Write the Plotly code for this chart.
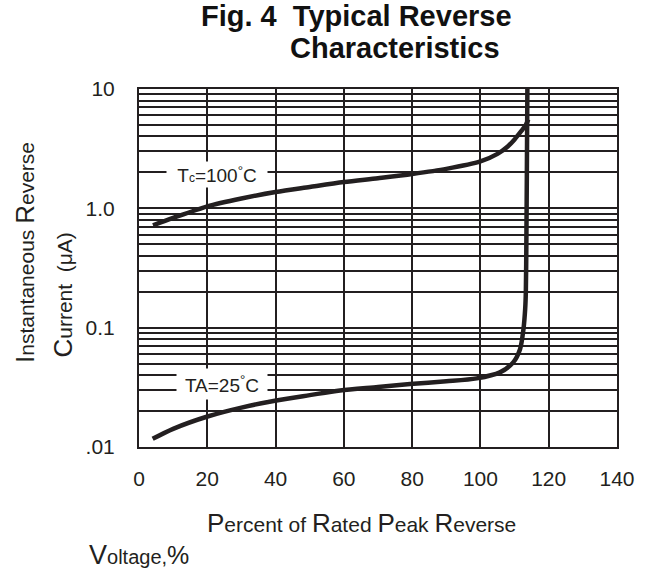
import math
import plotly.graph_objects as go

# ---- data ----
tc100_x = [4.1, 10, 20, 30, 40, 50, 60, 70, 80, 90, 100, 105, 108, 110, 112, 113.3, 114.0]
tc100_y = [0.72, 0.83, 1.04, 1.21, 1.37, 1.51, 1.66, 1.79, 1.94, 2.14, 2.47, 2.86, 3.3, 3.78, 4.45, 5.0, 5.56]

ta25_x = [4.0, 10, 20.3, 30, 39.8, 50, 58.9, 70, 79.4, 90, 98.9, 105.7, 109.6, 111.6, 112.6, 113.1, 113.3, 113.45, 113.6, 113.75]
ta25_y = [0.0117, 0.0142, 0.0181, 0.0214, 0.0244, 0.0272, 0.0298, 0.0318, 0.0337, 0.0355, 0.0376, 0.0422, 0.0512, 0.066, 0.097, 0.143, 0.20, 0.5, 2.0, 10.0]

x_ticks = [0, 20, 40, 60, 80, 100, 120, 140]
y_decades = [0.01, 0.1, 1, 10]
y_decade_labels = [".01", "0.1", "1.0", "10"]
y_minor_digits = [2, 3, 4, 5, 6, 7, 8, 9]

INK = "#231f20"
FONT = "Liberation Sans"

minor_vals = [round(d * m, 6) for d in y_decades[:-1] for m in y_minor_digits]

fig = go.Figure()
line_style = dict(color=INK, width=4.5, shape="spline", smoothing=0.8)
fig.add_trace(go.Scatter(x=tc100_x, y=tc100_y, mode="lines", line=line_style,
                         name="Tc=100°C", showlegend=False, hoverinfo="skip"))
fig.add_trace(go.Scatter(x=ta25_x, y=ta25_y, mode="lines", line=line_style,
                         name="TA=25°C", showlegend=False, hoverinfo="skip"))

def big(s, size=26):
    return f'<span style="font-size:{size}px">{s}</span>'

annotations = [
    # title
    dict(text="<b>Fig. 4  Typical Reverse</b>", xref="paper", yref="paper",
         x=0.454, y=1.204, showarrow=False, xanchor="center", yanchor="middle",
         font=dict(family=FONT, size=29, color="#111")),
    dict(text="<b>Characteristics</b>", xref="paper", yref="paper",
         x=0.5356, y=1.115, showarrow=False, xanchor="center", yanchor="middle",
         font=dict(family=FONT, size=29, color="#111")),
    # curve labels
    dict(text='T<span style="font-size:12px">c</span>=100<sup>°</sup>C',
         x=22.8, y=math.log10(1.91), xref="x", yref="y", showarrow=False,
         bgcolor="white", width=100, height=25, borderpad=0,
         font=dict(family=FONT, size=19, color=INK)),
    dict(text='TA=25<sup>°</sup>C',
         x=24.3, y=math.log10(0.0337), xref="x", yref="y", showarrow=False,
         bgcolor="white", width=90, height=30, borderpad=0,
         font=dict(family=FONT, size=19, color=INK)),
    # y axis title (two lines)
    dict(text=big("I") + "nstantaneous " + big("R") + "everse", textangle=-90,
         xref="paper", yref="paper", x=-0.2385, y=(447 - 252) / 358,
         xanchor="center", yanchor="middle", showarrow=False,
         font=dict(family=FONT, size=21, color=INK)),
    dict(text=big("C") + "urrent  (μA)", textangle=-90,
         xref="paper", yref="paper", x=-0.161, y=(447 - 295.5) / 358,
         xanchor="center", yanchor="middle", showarrow=False,
         font=dict(family=FONT, size=21, color=INK)),
    # x axis title (two lines)
    dict(text=big("P") + "ercent of " + big("R") + "ated " + big("P") + "eak " + big("R") + "everse",
         xref="paper", yref="paper", x=0.4665, y=-0.212,
         xanchor="center", yanchor="middle", showarrow=False,
         font=dict(family=FONT, size=21, color=INK)),
    dict(text=big("V", 27) + "oltage," + big("%", 25),
         xref="paper", yref="paper", x=0.0, y=-0.302,
         xanchor="center", yanchor="middle", showarrow=False,
         font=dict(family=FONT, size=20, color=INK)),
]

fig.update_layout(
    width=652, height=585,
    margin=dict(l=139, r=35, t=89, b=138),
    paper_bgcolor="white", plot_bgcolor="white",
    showlegend=False,
    annotations=annotations,
    font=dict(family=FONT, color=INK),
)
fig.update_xaxes(
    range=[0, 140], tickvals=x_ticks, ticktext=[str(v) for v in x_ticks],
    showgrid=True, gridcolor=INK, gridwidth=1.6, zeroline=False,
    showline=True, linecolor=INK, linewidth=2, mirror=True,
    ticks="", ticklabelstandoff=12,
    tickfont=dict(family=FONT, size=21, color=INK),
)
fig.update_yaxes(
    type="log", range=[-2, 1], tickvals=y_decades, ticktext=y_decade_labels,
    showgrid=True, gridcolor=INK, gridwidth=1.6, zeroline=False,
    showline=True, linecolor=INK, linewidth=2, mirror=True,
    ticks="", ticklabelstandoff=18,
    tickfont=dict(family=FONT, size=21, color=INK),
    minor=dict(tickvals=minor_vals, showgrid=True, gridcolor=INK, gridwidth=1.6, ticks=""),
)

# remove the browser's default 8px body margin so the figure fills the window
fig.write_html("out.html", config={"displayModeBar": False},
               post_script="document.body.style.margin='0';")
